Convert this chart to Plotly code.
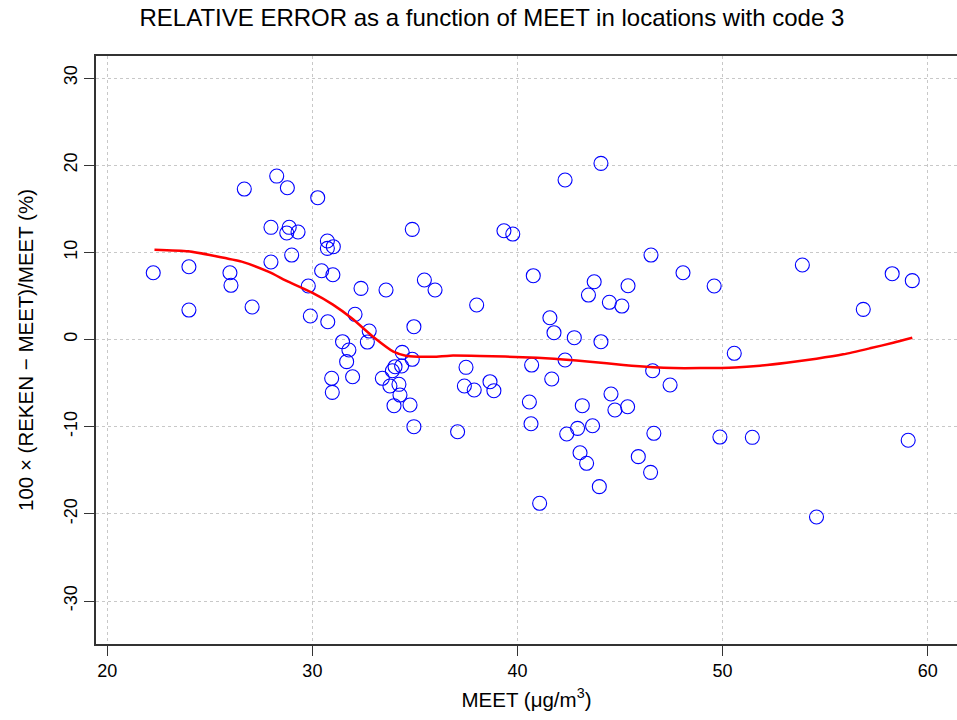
import plotly.graph_objects as go

meet = [22.24, 23.98, 23.98, 25.98, 26.03, 26.68, 27.06, 27.98, 27.98, 28.26,
        28.78, 28.87, 28.75, 29.30, 28.99, 29.80, 29.90, 30.26, 30.45, 31.00,
        30.73, 30.73, 31.02, 30.75, 30.94, 30.97, 31.47, 31.78, 31.67, 31.96,
        32.08, 32.37, 32.77, 32.68, 33.59, 33.41, 33.78, 34.03, 33.90, 34.35,
        34.38, 34.22, 34.27, 33.98, 34.76, 34.87, 34.95, 34.87, 34.95, 35.46,
        35.98, 37.08, 37.49, 37.41, 37.89, 38.01, 38.66, 38.85, 39.34, 39.77,
        40.77, 40.69, 40.58, 40.66, 41.08, 41.58, 41.78, 41.67, 42.32, 42.32,
        42.40, 42.77, 42.93, 43.05, 43.37, 43.16, 43.46, 43.66, 43.74, 43.99,
        44.07, 44.07, 44.48, 44.56, 44.75, 45.09, 45.37, 45.39, 45.89, 46.49,
        46.51, 46.59, 46.65, 47.44, 48.07, 49.59, 49.87, 50.57, 51.45, 53.89,
        54.58, 56.86, 58.27, 59.25, 59.05]
rel_err = [7.66, 8.35, 3.38, 7.66, 6.22, 17.26, 3.73, 12.87, 8.89, 18.75,
           17.41, 12.87, 12.22, 12.33, 9.69, 6.14, 2.70, 16.27, 7.89, 7.43,
           11.30, 10.46, 10.65, 2.04, -4.45, -6.06, -0.25, -1.20, -2.54, -4.27,
           2.89, 5.87, 0.97, -0.29, 5.68, -4.45, -5.33, -3.12, -3.58, -3.04,
           -1.47, -5.14, -6.37, -7.59, -7.51, 12.64, 1.47, -2.27, -10.0, 6.83,
           5.68, -10.58, -3.19, -5.33, -5.79, 3.96, -4.84, -5.87, 12.48, 12.10,
           7.32, -2.93, -7.17, -9.66, -18.79, 2.50, 0.78, -4.53, 18.30, -2.35,
           -10.84, 0.21, -10.19, -12.99, -14.20, -7.59, 5.10, -9.89, 6.63, -16.88,
           20.21, -0.25, 4.27, -6.25, -8.09, 3.84, -7.71, 6.17, -13.44, -15.24,
           9.69, -3.58, -10.76, -5.22, 7.66, 6.14, -11.19, -1.58, -11.22, 8.55,
           -20.36, 3.46, 7.55, 6.75, -11.56]

smooth_x = [22.3, 23.95, 25.25, 26.55, 27.85, 28.82, 29.96, 31.0, 31.92, 33.05,
            33.95, 34.6, 35.9, 36.71, 38.17, 40.61, 42.23, 43.53, 45.16, 46.62,
            47.6, 48.9, 50.6, 51.82, 53.12, 54.58, 55.88, 57.18, 58.32, 59.25]
smooth_y = [10.3, 10.12, 9.58, 8.93, 7.78, 6.63, 5.4, 4.0, 2.43, 0.14,
            -1.4, -1.89, -1.97, -1.85, -1.89, -2.05, -2.28, -2.54, -2.93, -3.19,
            -3.28, -3.28, -3.2, -3.0, -2.66, -2.2, -1.7, -1.01, -0.37, 0.21]

x_ticks = [20, 30, 40, 50, 60]
y_ticks = [-30, -20, -10, 0, 10, 20, 30]

fig = go.Figure()
fig.add_trace(go.Scatter(
    x=meet, y=rel_err, mode="markers",
    marker=dict(symbol="circle-open", size=14, color="#0000FF",
                line=dict(width=1.1, color="#0000FF")),
    showlegend=False, hoverinfo="x+y"))
fig.add_trace(go.Scatter(
    x=smooth_x, y=smooth_y, mode="lines",
    line=dict(color="#FF0000", width=2.5, shape="spline", smoothing=0.6),
    showlegend=False))

font_family = "Liberation Sans, Arial, sans-serif"
fig.update_layout(
    width=957, height=720,
    margin=dict(l=96, r=0, t=56, b=76),
    paper_bgcolor="white", plot_bgcolor="white",
    font=dict(family=font_family, color="black", size=18),
    title=dict(text="RELATIVE ERROR as a function of MEET in locations with code 3",
               x=0.514, xanchor="center", y=0.975, yanchor="middle",
               font=dict(size=24, family=font_family, color="black")),
    xaxis=dict(range=[19.449, 61.43], tickvals=x_ticks, ticktext=[str(v) for v in x_ticks],
               showgrid=True, gridcolor="#c8c8c8", griddash="dot", gridwidth=1,
               zeroline=False, showline=True, linecolor="#333333", linewidth=1.5,
               mirror=True, ticks="outside", ticklen=10, tickcolor="#333333",
               tickwidth=1.2, tickfont=dict(size=18),
               title=dict(text="MEET (μg/m<sup>3</sup>)", standoff=12,
                          font=dict(size=20.5))),
    yaxis=dict(range=[-34.93, 32.524], tickvals=y_ticks, ticktext=[str(v) for v in y_ticks],
               tickangle=-90,
               showgrid=True, gridcolor="#c8c8c8", griddash="dot", gridwidth=1,
               zeroline=False, showline=True, linecolor="#333333", linewidth=1.5,
               mirror=False, ticks="outside", ticklen=10, tickcolor="#333333",
               tickwidth=1.2, tickfont=dict(size=18),
               title=dict(text="100 × (REKEN − MEET)/MEET (%)", standoff=22,
                          font=dict(size=20.5))),
)

fig.write_html("out.html")
